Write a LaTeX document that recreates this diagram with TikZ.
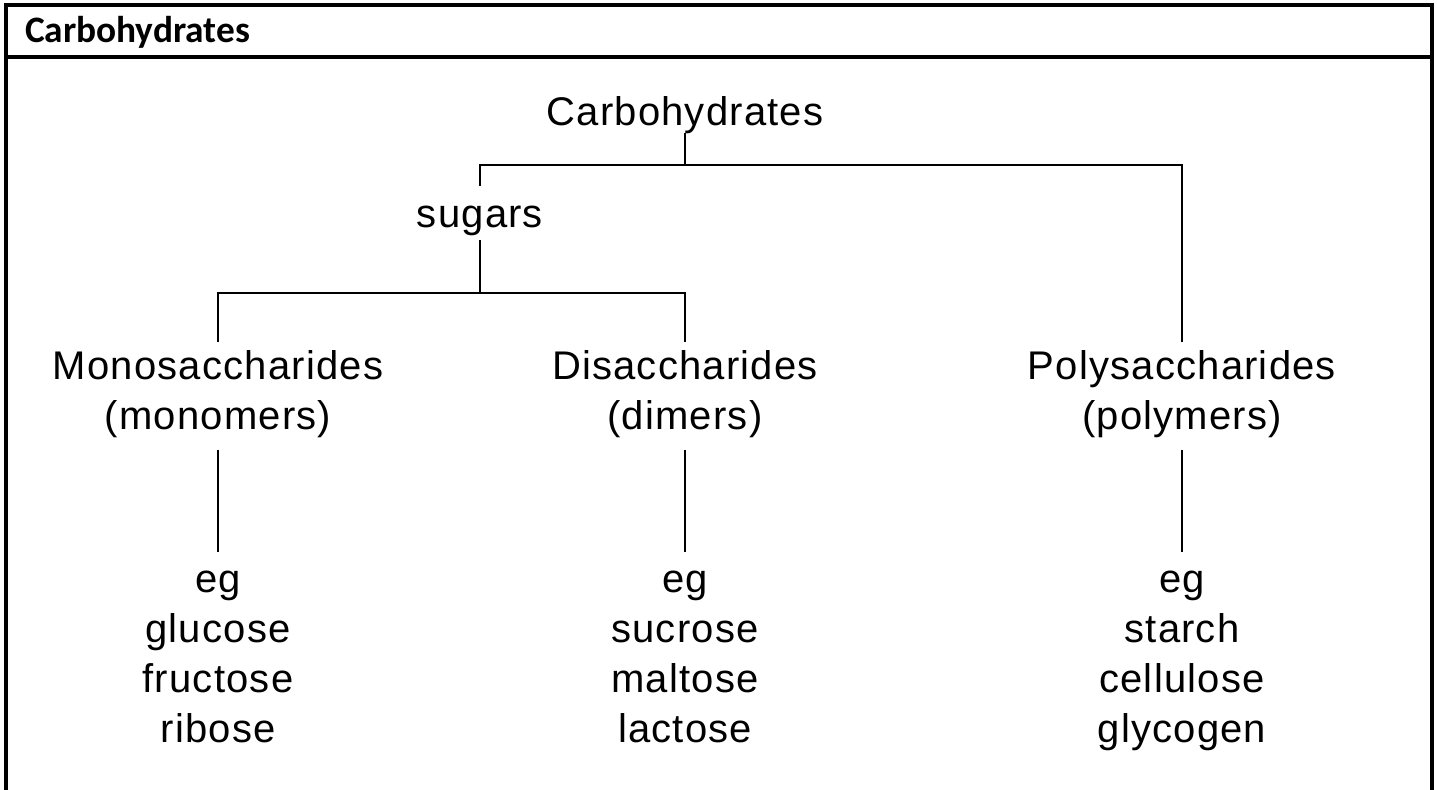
\documentclass[tikz,border=0pt]{standalone}
\usepackage{fontspec}
\setmainfont{Liberation Sans}
\newfontfamily\dfont[LetterSpace=3]{Liberation Sans}
\newfontfamily\hfont{Carlito}
\tikzset{
  border/.style={line width=2.6pt},
  conn/.style={line width=2.1pt},
  lbl/.style={inner sep=0pt, outer sep=0pt, font=\dfont\fontsize{30}{37.5}\selectfont, align=center},
  hdr/.style={inner sep=0pt, outer sep=0pt, font=\hfont\bfseries\fontsize{28}{32}\selectfont}
}
\begin{document}
\begin{tikzpicture}[x=0.75pt,y=-0.75pt]
\useasboundingbox (0,0) rectangle (1437,789);
% frame
\draw[border] (6,800) -- (6,5) -- (1432,5) -- (1432,800);
\draw[border] (6,57) -- (1432,57);
\node[hdr, anchor=base west] (title) at (25,42) {Carbohydrates};
% nodes
\node[lbl, anchor=base] (carb) at (685,125) {Carbohydrates};
\node[lbl, anchor=base] (sugars) at (480,227) {sugars};
\node[lbl, anchor=north] (mono) at (218,351) {Monosaccharides\\(monomers)};
\node[lbl, anchor=north] (dis) at (685,351) {Disaccharides\\(dimers)};
\node[lbl, anchor=north] (poly) at (1182,351) {Polysaccharides\\(polymers)};
\node[lbl, anchor=north] (monoex) at (218,571) {eg\\glucose\\fructose\\ribose};
\node[lbl, anchor=north] (disex) at (685,571) {eg\\sucrose\\maltose\\lactose};
\node[lbl, anchor=north] (polyex) at (1182,571) {eg\\starch\\cellulose\\glycogen};
\coordinate (j1) at (685,165);
\coordinate (j2) at (480,293);
% connectors
\draw[conn] (carb.south) -- (j1);
\draw[conn, shorten <=14.5pt, shorten >=6.75pt] (sugars.north) |- (j1) -| (poly.north);
\draw[conn, shorten <=3.5pt] (sugars.south) -- (j2);
\draw[conn, shorten >=6.75pt] (j2) -| (mono.north);
\draw[conn, shorten >=6.75pt] (j2) -| (dis.north);
\draw[conn, shorten <=8.7pt, shorten >=14pt] (mono.south) -- (monoex.north);
\draw[conn, shorten <=8.7pt, shorten >=14pt] (dis.south) -- (disex.north);
\draw[conn, shorten <=8.7pt, shorten >=14pt] (poly.south) -- (polyex.north);
\end{tikzpicture}
\end{document}
